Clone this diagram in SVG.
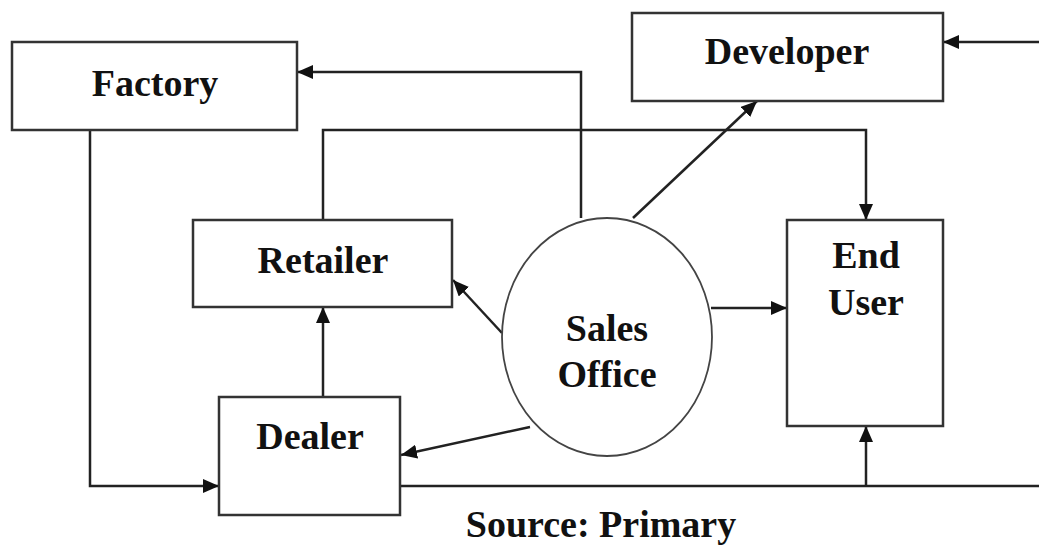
<svg xmlns="http://www.w3.org/2000/svg" width="1039" height="549" viewBox="0 0 1039 549">
  <style>
    .box { fill: #fff; stroke: #333; stroke-width: 2.5; }
    .oval { fill: #fff; stroke: #444; stroke-width: 1.8; }
    .lbl { font-family: "Liberation Serif", "Times New Roman", serif; font-weight: bold; font-size: 38px; fill: #111; text-anchor: middle; }
    .wire { fill: none; stroke: #222; stroke-width: 2.5; }
  </style>
  <defs>
    <marker id="arrow" viewBox="0 0 16 14" refX="16" refY="7" markerWidth="16" markerHeight="14" markerUnits="userSpaceOnUse" orient="auto">
      <path d="M0,0 L16,7 L0,14 Z" fill="#111"/>
    </marker>
  </defs>
  <rect width="1039" height="549" fill="#fff"/>

  <!-- connectors -->
  <g id="connectors">
    <!-- Sales Office up and over to Factory -->
    <polyline class="wire" points="581,218 581,72 297,72" marker-end="url(#arrow)"/>
    <!-- Retailer over the top to End User -->
    <polyline class="wire" points="323,220 323,130 866,130 866,220" marker-end="url(#arrow)"/>
    <!-- outside feed into Developer -->
    <line class="wire" x1="1039" y1="42" x2="943" y2="42" marker-end="url(#arrow)"/>
    <!-- Sales Office to Developer -->
    <line class="wire" x1="633" y1="218" x2="757" y2="101" marker-end="url(#arrow)"/>
    <!-- Sales Office to Retailer -->
    <line class="wire" x1="502" y1="333" x2="453" y2="280" marker-end="url(#arrow)"/>
    <!-- Sales Office to End User -->
    <line class="wire" x1="711" y1="308" x2="787" y2="308" marker-end="url(#arrow)"/>
    <!-- Sales Office to Dealer -->
    <line class="wire" x1="530" y1="427" x2="401" y2="455" marker-end="url(#arrow)"/>
    <!-- Factory down to Dealer -->
    <polyline class="wire" points="90,130 90,486 219,486" marker-end="url(#arrow)"/>
    <!-- Dealer up to Retailer -->
    <line class="wire" x1="323" y1="397" x2="323" y2="307" marker-end="url(#arrow)"/>
    <!-- Dealer along the bottom -->
    <line class="wire" x1="400" y1="486" x2="1039" y2="486"/>
    <line class="wire" x1="866" y1="486" x2="866" y2="426" marker-end="url(#arrow)"/>
  </g>

  <g id="factory">
    <rect class="box" x="12" y="42" width="285" height="88"/>
    <text class="lbl" x="155" y="96">Factory</text>
  </g>
  <g id="developer">
    <rect class="box" x="632" y="13" width="311" height="88"/>
    <text class="lbl" x="787" y="64">Developer</text>
  </g>
  <g id="retailer">
    <rect class="box" x="193" y="220" width="259" height="87"/>
    <text class="lbl" x="323" y="273">Retailer</text>
  </g>
  <g id="dealer">
    <rect class="box" x="219" y="397" width="181" height="118"/>
    <text class="lbl" x="310" y="449">Dealer</text>
  </g>
  <g id="end-user">
    <rect class="box" x="787" y="220" width="156" height="206"/>
    <text class="lbl" x="866" y="268">End</text>
    <text class="lbl" x="866" y="315">User</text>
  </g>
  <g id="sales-office">
    <ellipse class="oval" cx="607" cy="337" rx="105" ry="119"/>
    <text class="lbl" x="607" y="341">Sales</text>
    <text class="lbl" x="607" y="387">Office</text>
  </g>

  <text class="lbl" x="601" y="537">Source: Primary</text>
</svg>
